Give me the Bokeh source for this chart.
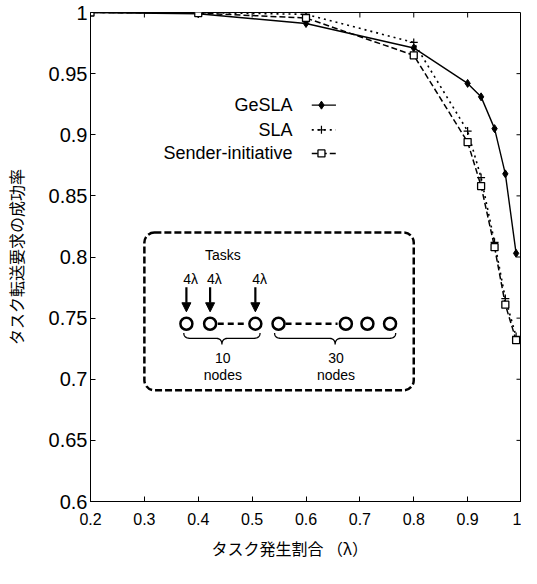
import numpy as np
from bokeh.plotting import figure
from bokeh.models import (FixedTicker, Range1d, Arrow, NormalHead, BoxAnnotation,
                          ColumnDataSource, Title)
from bokeh.core.properties import value
from bokeh.embed import file_html
from bokeh.resources import INLINE

# ---------------- data ----------------
lam = [0.2, 0.4, 0.6, 0.8, 0.9, 0.925, 0.95, 0.97, 0.99]
gesla = [1.0, 0.999, 0.991, 0.971, 0.942, 0.931, 0.905, 0.868, 0.803]
sla = [1.0, 1.0, 0.9985, 0.9755, 0.903, 0.865, 0.812, 0.766, 0.735]
sender = [1.0, 0.9995, 0.9955, 0.965, 0.894, 0.858, 0.808, 0.761, 0.732]
series_names = ["GeSLA", "SLA", "Sender-initiative"]

x_ticks = [0.2, 0.3, 0.4, 0.5, 0.6, 0.7, 0.8, 0.9, 1.0]
x_tick_labels = ["0.2", "0.3", "0.4", "0.5", "0.6", "0.7", "0.8", "0.9", "1"]
y_ticks = [0.6, 0.65, 0.7, 0.75, 0.8, 0.85, 0.9, 0.95, 1.0]
y_tick_labels = ["0.6", "0.65", "0.7", "0.75", "0.8", "0.85", "0.9", "0.95", "1"]

x_title = "タスク発生割合 （λ）"
y_title = "タスク転送要求の成功率"

inset_task_label = "Tasks"
inset_rate_labels = ["4λ", "4λ", "4λ"]
inset_group_counts = ["10", "30"]
inset_group_unit = "nodes"

LAT = "Liberation Sans"
CJK = "Noto Sans CJK JP"

p = figure(width=521, height=568, output_backend="svg", toolbar_location=None,
           x_range=Range1d(0.2, 1.0), y_range=Range1d(0.6, 1.0),
           min_border_left=84, min_border_right=0, min_border_top=12,
           min_border_bottom=67, background_fill_color="white",
           border_fill_color="white")
p.grid.visible = False
p.outline_line_color = "black"
p.outline_line_width = 1

# main axes
xa = p.xaxis[0]
xa.ticker = FixedTicker(ticks=x_ticks)
xa.major_label_overrides = {t: l for t, l in zip(x_ticks, x_tick_labels)}
ya = p.yaxis[0]
ya.ticker = FixedTicker(ticks=y_ticks)
ya.major_label_overrides = {t: l for t, l in zip(y_ticks, y_tick_labels)}
for ax in (xa, ya):
    ax.major_tick_in = 5
    ax.major_tick_out = 0
    ax.minor_tick_line_color = None
    ax.axis_line_color = "black"
    ax.major_label_text_font = LAT
    ax.major_label_text_color = "black"
xa.major_label_text_font_size = "16px"
ya.major_label_text_font_size = "20px"
xa.major_label_standoff = 11
ya.major_label_standoff = 3
ya.axis_label = y_title
ya.axis_label_text_font = CJK
ya.axis_label_text_font_size = "16px"
ya.axis_label_text_font_style = "normal"
ya.axis_label_text_color = "black"
ya.axis_label_standoff = 18

# mirrored inward ticks on top and right edges
p.ray(x=x_ticks[1:-1], y=[1.0] * (len(x_ticks) - 2), length=5, length_units="screen",
      angle=-np.pi / 2, line_color="black", line_width=1)
p.ray(x=[1.0] * (len(y_ticks) - 2), y=y_ticks[1:-1], length=5, length_units="screen",
      angle=np.pi, line_color="black", line_width=1)

# x title below the axis, shifted left like the original
p.add_layout(Title(text=x_title, text_font=CJK, text_font_size="16px",
                   text_font_style="normal", text_color="black", align="left",
                   offset=121, standoff=12), "below")

# ---------------- series ----------------
p.line(lam, gesla, line_color="black", line_width=1.4)
p.scatter(lam, gesla, marker="diamond", size=8, fill_color="black", line_color="black")
p.line(lam, sla, line_color="black", line_width=1.6, line_dash="2 4")
p.scatter(lam, sla, marker="cross", size=8, line_color="black", line_width=1.2)
p.line(lam, sender, line_color="black", line_width=1.5, line_dash="6 3")
p.scatter(lam, sender, marker="square", size=7, fill_color="white", line_color="black",
          line_width=1.3)

# ---------------- legend (manual, labels on the left) ----------------
leg_x_text = 0.575
leg_rows = [0.9242, 0.904, 0.8847]
leg_x0, leg_xm, leg_x1 = 0.6107, 0.6287, 0.6556
p.text([leg_x_text] * 3, leg_rows, text=series_names, text_align="right",
       text_baseline="middle", text_font=value(LAT), text_font_size="18px",
       text_color="black")
p.line([leg_x0, leg_x1], [leg_rows[0]] * 2, line_color="black", line_width=1.4)
p.scatter([leg_xm], [leg_rows[0]], marker="diamond", size=8, fill_color="black",
          line_color="black")
p.line([leg_x0, leg_x1], [leg_rows[1]] * 2, line_color="black", line_width=1.6,
       line_dash="2 4")
p.scatter([leg_xm], [leg_rows[1]], marker="cross", size=8, line_color="black", line_width=1.2)
p.line([leg_x0, leg_x1], [leg_rows[2]] * 2, line_color="black", line_width=1.5,
       line_dash="6 3")
p.scatter([leg_xm], [leg_rows[2]], marker="square", size=7, fill_color="white",
          line_color="black", line_width=1.3)

# ---------------- inset diagram ----------------
box = BoxAnnotation(left=0.3, right=0.8, bottom=0.691, top=0.820, fill_alpha=0,
                    line_color="black", line_alpha=1.0, line_width=2.5, line_dash="7 3",
                    border_radius=10)
p.add_layout(box)

node_x = [0.378, 0.422, 0.506, 0.549, 0.674, 0.714, 0.756]
node_y = 0.7454
p.line([0.4362, 0.4878], [node_y, node_y], line_color="black", line_width=2.5,
       line_dash="6 4")
p.line([0.562, 0.6586], [node_y, node_y], line_color="black", line_width=2.5,
       line_dash="6 4")
p.scatter(node_x, [node_y] * len(node_x), marker="circle", size=12,
          fill_color="white", line_color="black", line_width=2.5)

arr_src = ColumnDataSource(dict(x0=node_x[:3], y0=[0.7753] * 3,
                                x1=node_x[:3], y1=[0.7552] * 3))
p.add_layout(Arrow(source=arr_src, x_start="x0", y_start="y0", x_end="x1", y_end="y1",
                   line_color="black", line_width=2.2,
                   end=NormalHead(size=9, fill_color="black", line_color="black")))

p.text([x + 0.008 for x in node_x[:3]], [0.782] * 3, text=inset_rate_labels,
       text_align="center", text_baseline="middle", text_font=value(LAT),
       text_font_size="14px", text_color="black")
p.text([0.4457], [0.8019], text=[inset_task_label], text_align="center",
       text_baseline="middle", text_font=value(LAT), text_font_size="14px",
       text_color="black")


def brace(xa_, xb_, ytop, ymid, ytip, d):
    xc = (xa_ + xb_) / 2
    t = np.linspace(0, 1, 12)

    def quad(p0, p1, p2):
        return ((1 - t) ** 2 * p0[0] + 2 * (1 - t) * t * p1[0] + t ** 2 * p2[0],
                (1 - t) ** 2 * p0[1] + 2 * (1 - t) * t * p1[1] + t ** 2 * p2[1])
    parts = [quad((xa_, ytop), (xa_, ymid), (xa_ + d, ymid)),
             quad((xc - d, ymid), (xc, ymid), (xc, ytip)),
             quad((xc, ytip), (xc, ymid), (xc + d, ymid)),
             quad((xb_ - d, ymid), (xb_, ymid), (xb_, ytop))]
    xs = np.concatenate([q[0] for q in parts])
    ys = np.concatenate([q[1] for q in parts])
    return xs, ys


for (a, b) in [(0.3732, 0.5147), (0.5417, 0.7665)]:
    bx, by = brace(a, b, 0.7379, 0.7335, 0.7285, 0.012)
    p.line(bx, by, line_color="black", line_width=1.3)

p.text([0.4457, 0.6556], [0.717, 0.717], text=inset_group_counts, text_align="center",
       text_baseline="middle", text_font=value(LAT), text_font_size="14px",
       text_color="black")
p.text([0.4457, 0.6556], [0.7032, 0.7032], text=[inset_group_unit] * 2,
       text_align="center", text_baseline="middle", text_font=value(LAT),
       text_font_size="14px", text_color="black")

open("out.html", "w").write(file_html(p, INLINE))
